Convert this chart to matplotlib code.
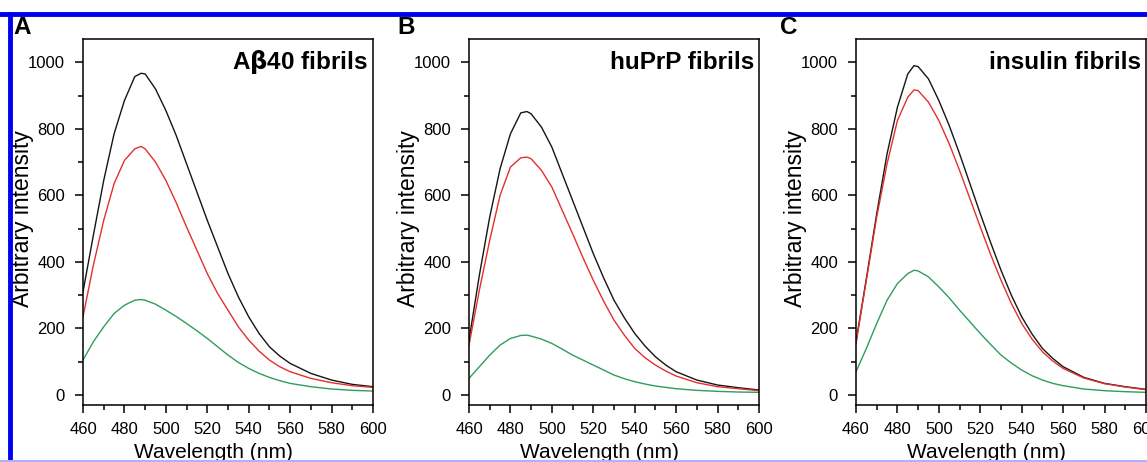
import numpy as np
import matplotlib
matplotlib.use("Agg")
import matplotlib.pyplot as plt
from matplotlib.lines import Line2D
from matplotlib.ticker import MultipleLocator

plt.rcParams['font.family'] = ['Liberation Sans', 'DejaVu Sans']

# wavelength grid (nm)
wl = [460, 465, 470, 475, 480, 485, 488, 490, 495, 500, 505, 510, 515, 520, 525,
      530, 535, 540, 545, 550, 555, 560, 570, 580, 590, 600]

# panel A - Abeta40 fibrils
a_black = [310, 480, 645, 785, 885, 957, 967, 965, 920, 855, 780, 695, 610, 525, 445,
           365, 295, 235, 185, 145, 117, 95, 65, 45, 32, 25]
a_red = [235, 390, 525, 635, 705, 740, 747, 740, 700, 645, 578, 505, 435, 365, 305,
         255, 205, 165, 132, 105, 85, 70, 50, 37, 28, 23]
a_green = [105, 160, 205, 245, 270, 285, 287, 285, 273, 255, 236, 215, 193, 170, 145,
           120, 98, 80, 65, 53, 43, 35, 25, 18, 14, 12]

# panel B - huPrP fibrils
b_black = [165, 360, 535, 680, 785, 848, 852, 845, 805, 745, 665, 585, 505, 425, 352,
           285, 232, 185, 147, 115, 90, 70, 45, 30, 22, 15]
b_red = [150, 315, 465, 600, 685, 713, 715, 710, 675, 625, 555, 485, 413, 345, 282,
         225, 180, 140, 112, 90, 72, 57, 37, 25, 19, 13]
b_green = [50, 85, 120, 150, 170, 179, 180, 177, 168, 155, 138, 120, 105, 90, 75,
           60, 49, 40, 33, 27, 23, 19, 14, 11, 9, 8]

# panel C - insulin fibrils
c_black = [160, 350, 545, 725, 865, 965, 990, 987, 950, 885, 810, 725, 635, 545, 458,
           375, 300, 235, 183, 140, 110, 85, 53, 35, 25, 17]
c_red = [155, 345, 535, 695, 825, 895, 917, 915, 880, 825, 755, 675, 590, 505, 422,
         345, 275, 215, 168, 130, 102, 80, 51, 34, 24, 16]
c_green = [70, 140, 215, 285, 335, 365, 375, 373, 355, 325, 292, 255, 220, 185, 152,
           120, 96, 75, 58, 45, 35, 28, 18, 13, 10, 8]

panel_letters = ["A", "B", "C"]
panel_titles = [r"A$\mathbf{\beta}$40 fibrils", "huPrP fibrils", "insulin fibrils"]
panel_data = [(a_black, a_red, a_green), (b_black, b_red, b_green), (c_black, c_red, c_green)]
line_colors = ["#151515", "#e2302f", "#2e9e5c"]

W, H = 1147, 462
fig = plt.figure(figsize=(W / 100, H / 100), dpi=100)

lefts = [83, 469, 856]
letter_x = [13, 397, 780]
ax_w = 290
ax_top, ax_bot = 39, 405

for i in range(3):
    ax = fig.add_axes([lefts[i] / W, 1 - ax_bot / H, ax_w / W, (ax_bot - ax_top) / H])
    for ys, c in zip(panel_data[i], line_colors):
        ax.plot(wl, ys, color=c, lw=1.0)
    ax.set_xlim(460, 600)
    ax.set_ylim(-30, 1070)
    ax.xaxis.set_major_locator(MultipleLocator(20))
    ax.xaxis.set_minor_locator(MultipleLocator(10))
    ax.yaxis.set_major_locator(MultipleLocator(200))
    ax.yaxis.set_minor_locator(MultipleLocator(100))
    ax.tick_params(which='both', direction='out', labelsize=12, width=1.1)
    ax.tick_params(which='major', length=6, pad=7)
    ax.tick_params(which='minor', length=3.5)
    ax.tick_params(axis='x', which='major', pad=6)
    for s in ax.spines.values():
        s.set_linewidth(1.1)
    ax.set_xlabel("Wavelength (nm)", fontsize=15)
    ax.xaxis.set_label_coords(0.45, -0.105)
    ax.set_ylabel("Arbitrary intensity", fontsize=16.5)
    ax.yaxis.set_label_coords(-0.168, 0.51)
    ax.text(0.983, 0.937, panel_titles[i], transform=ax.transAxes, ha='right', va='center',
            fontsize=17.5, fontweight='bold')
    fig.text(letter_x[i] / W, 1 - 27 / H, panel_letters[i], fontsize=17.5, fontweight='bold',
             ha='left', va='center')

# blue frame of the screenshot
fig.add_artist(Line2D([0, 1], [1 - 14 / H, 1 - 14 / H], color='#0000ee', lw=3.5,
                      transform=fig.transFigure))
fig.add_artist(Line2D([10 / W, 10 / W], [0, 1 - 14 / H], color='#0000ee', lw=3.5,
                      transform=fig.transFigure))
fig.add_artist(Line2D([0, 1], [1 / H, 1 / H], color='#b0b0ff', lw=1.5,
                      transform=fig.transFigure))

fig.savefig("out.png", dpi=100)
